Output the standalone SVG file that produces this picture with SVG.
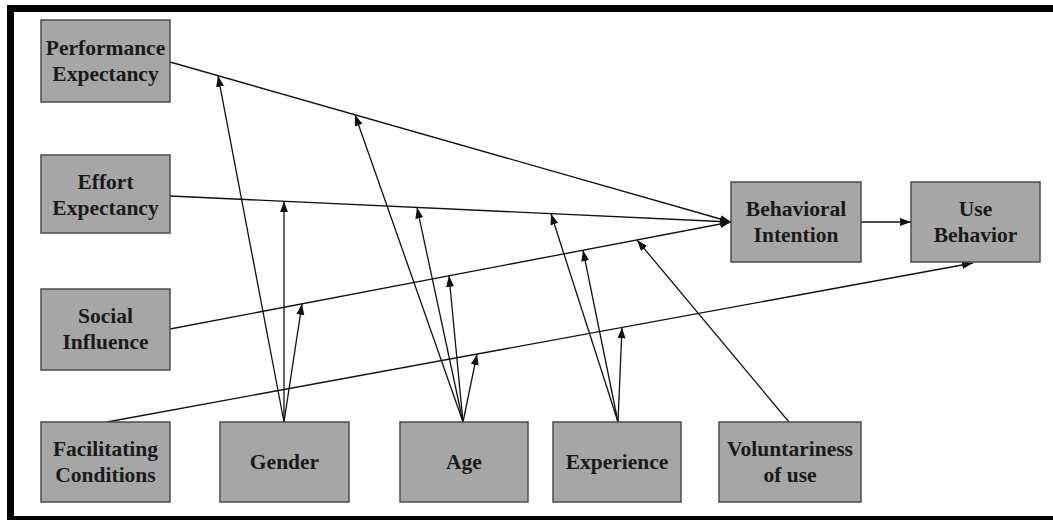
<svg xmlns="http://www.w3.org/2000/svg" width="1053" height="520" viewBox="0 0 1053 520">
<style>
.box{fill:#a6a6a6;stroke:#4d4d4d;stroke-width:1.5}
.lbl{font-family:"Liberation Serif","Times New Roman",serif;font-weight:bold;font-size:21.5px;fill:#1a1a1a;text-anchor:middle}
.ln{stroke:#111;stroke-width:1.3;fill:none}
.arr{marker-end:url(#ah)}
</style>
<defs>
<marker id="ah" markerWidth="11" markerHeight="9" refX="11" refY="4" orient="auto" markerUnits="userSpaceOnUse">
<path d="M0,0 L11,4 L0,8 z" fill="#111"/>
</marker>
</defs>
<rect x="0" y="0" width="1053" height="520" fill="#fff"/>
<rect x="10.5" y="8.5" width="1060" height="511" fill="none" stroke="#000" stroke-width="7"/>
<g id="connectors">
<line class="ln arr" x1="170" y1="62" x2="731" y2="222"/>
<line class="ln arr" x1="170" y1="196" x2="731" y2="222"/>
<line class="ln arr" x1="170" y1="329" x2="731" y2="222"/>
<line class="ln arr" x1="861" y1="222" x2="911" y2="222"/>
<line class="ln arr" x1="107" y1="422" x2="973" y2="263"/>
<line class="ln arr" x1="284" y1="422" x2="218" y2="75.7"/>
<line class="ln arr" x1="284" y1="422" x2="284" y2="201.3"/>
<line class="ln arr" x1="284" y1="422" x2="302" y2="303.8"/>
<line class="ln arr" x1="463" y1="422" x2="355" y2="114.8"/>
<line class="ln arr" x1="463" y1="422" x2="417" y2="207.4"/>
<line class="ln arr" x1="463" y1="422" x2="449" y2="275.8"/>
<line class="ln arr" x1="463" y1="422" x2="477" y2="354.1"/>
<line class="ln arr" x1="618" y1="422" x2="551" y2="213.7"/>
<line class="ln arr" x1="618" y1="422" x2="583" y2="250.2"/>
<line class="ln arr" x1="618" y1="422" x2="622" y2="327.4"/>
<line class="ln arr" x1="789" y1="422" x2="637" y2="240"/>
</g>
<g id="pe"><rect class="box" x="41" y="20" width="129" height="82"/><text class="lbl" x="105.5" y="55">Performance</text><text class="lbl" x="105.5" y="81">Expectancy</text></g>
<g id="ee"><rect class="box" x="41" y="155" width="129" height="78"/><text class="lbl" x="105.5" y="189">Effort</text><text class="lbl" x="105.5" y="215">Expectancy</text></g>
<g id="si"><rect class="box" x="41" y="289" width="129" height="81"/><text class="lbl" x="105.5" y="323">Social</text><text class="lbl" x="105.5" y="349">Influence</text></g>
<g id="fc"><rect class="box" x="41" y="422" width="129" height="80"/><text class="lbl" x="105.5" y="456">Facilitating</text><text class="lbl" x="105.5" y="482">Conditions</text></g>
<g id="gender"><rect class="box" x="220" y="422" width="129" height="80"/><text class="lbl" x="284.5" y="469">Gender</text></g>
<g id="age"><rect class="box" x="400" y="422" width="128" height="80"/><text class="lbl" x="464" y="469">Age</text></g>
<g id="experience"><rect class="box" x="553" y="422" width="128" height="80"/><text class="lbl" x="617" y="469">Experience</text></g>
<g id="voluntariness"><rect class="box" x="719" y="422" width="142" height="80"/><text class="lbl" x="790" y="456">Voluntariness</text><text class="lbl" x="790" y="482">of use</text></g>
<g id="bi"><rect class="box" x="731" y="182" width="130" height="80"/><text class="lbl" x="796" y="216">Behavioral</text><text class="lbl" x="796" y="242">Intention</text></g>
<g id="ub"><rect class="box" x="911" y="182" width="129" height="80"/><text class="lbl" x="975.5" y="216">Use</text><text class="lbl" x="975.5" y="242">Behavior</text></g>
</svg>
